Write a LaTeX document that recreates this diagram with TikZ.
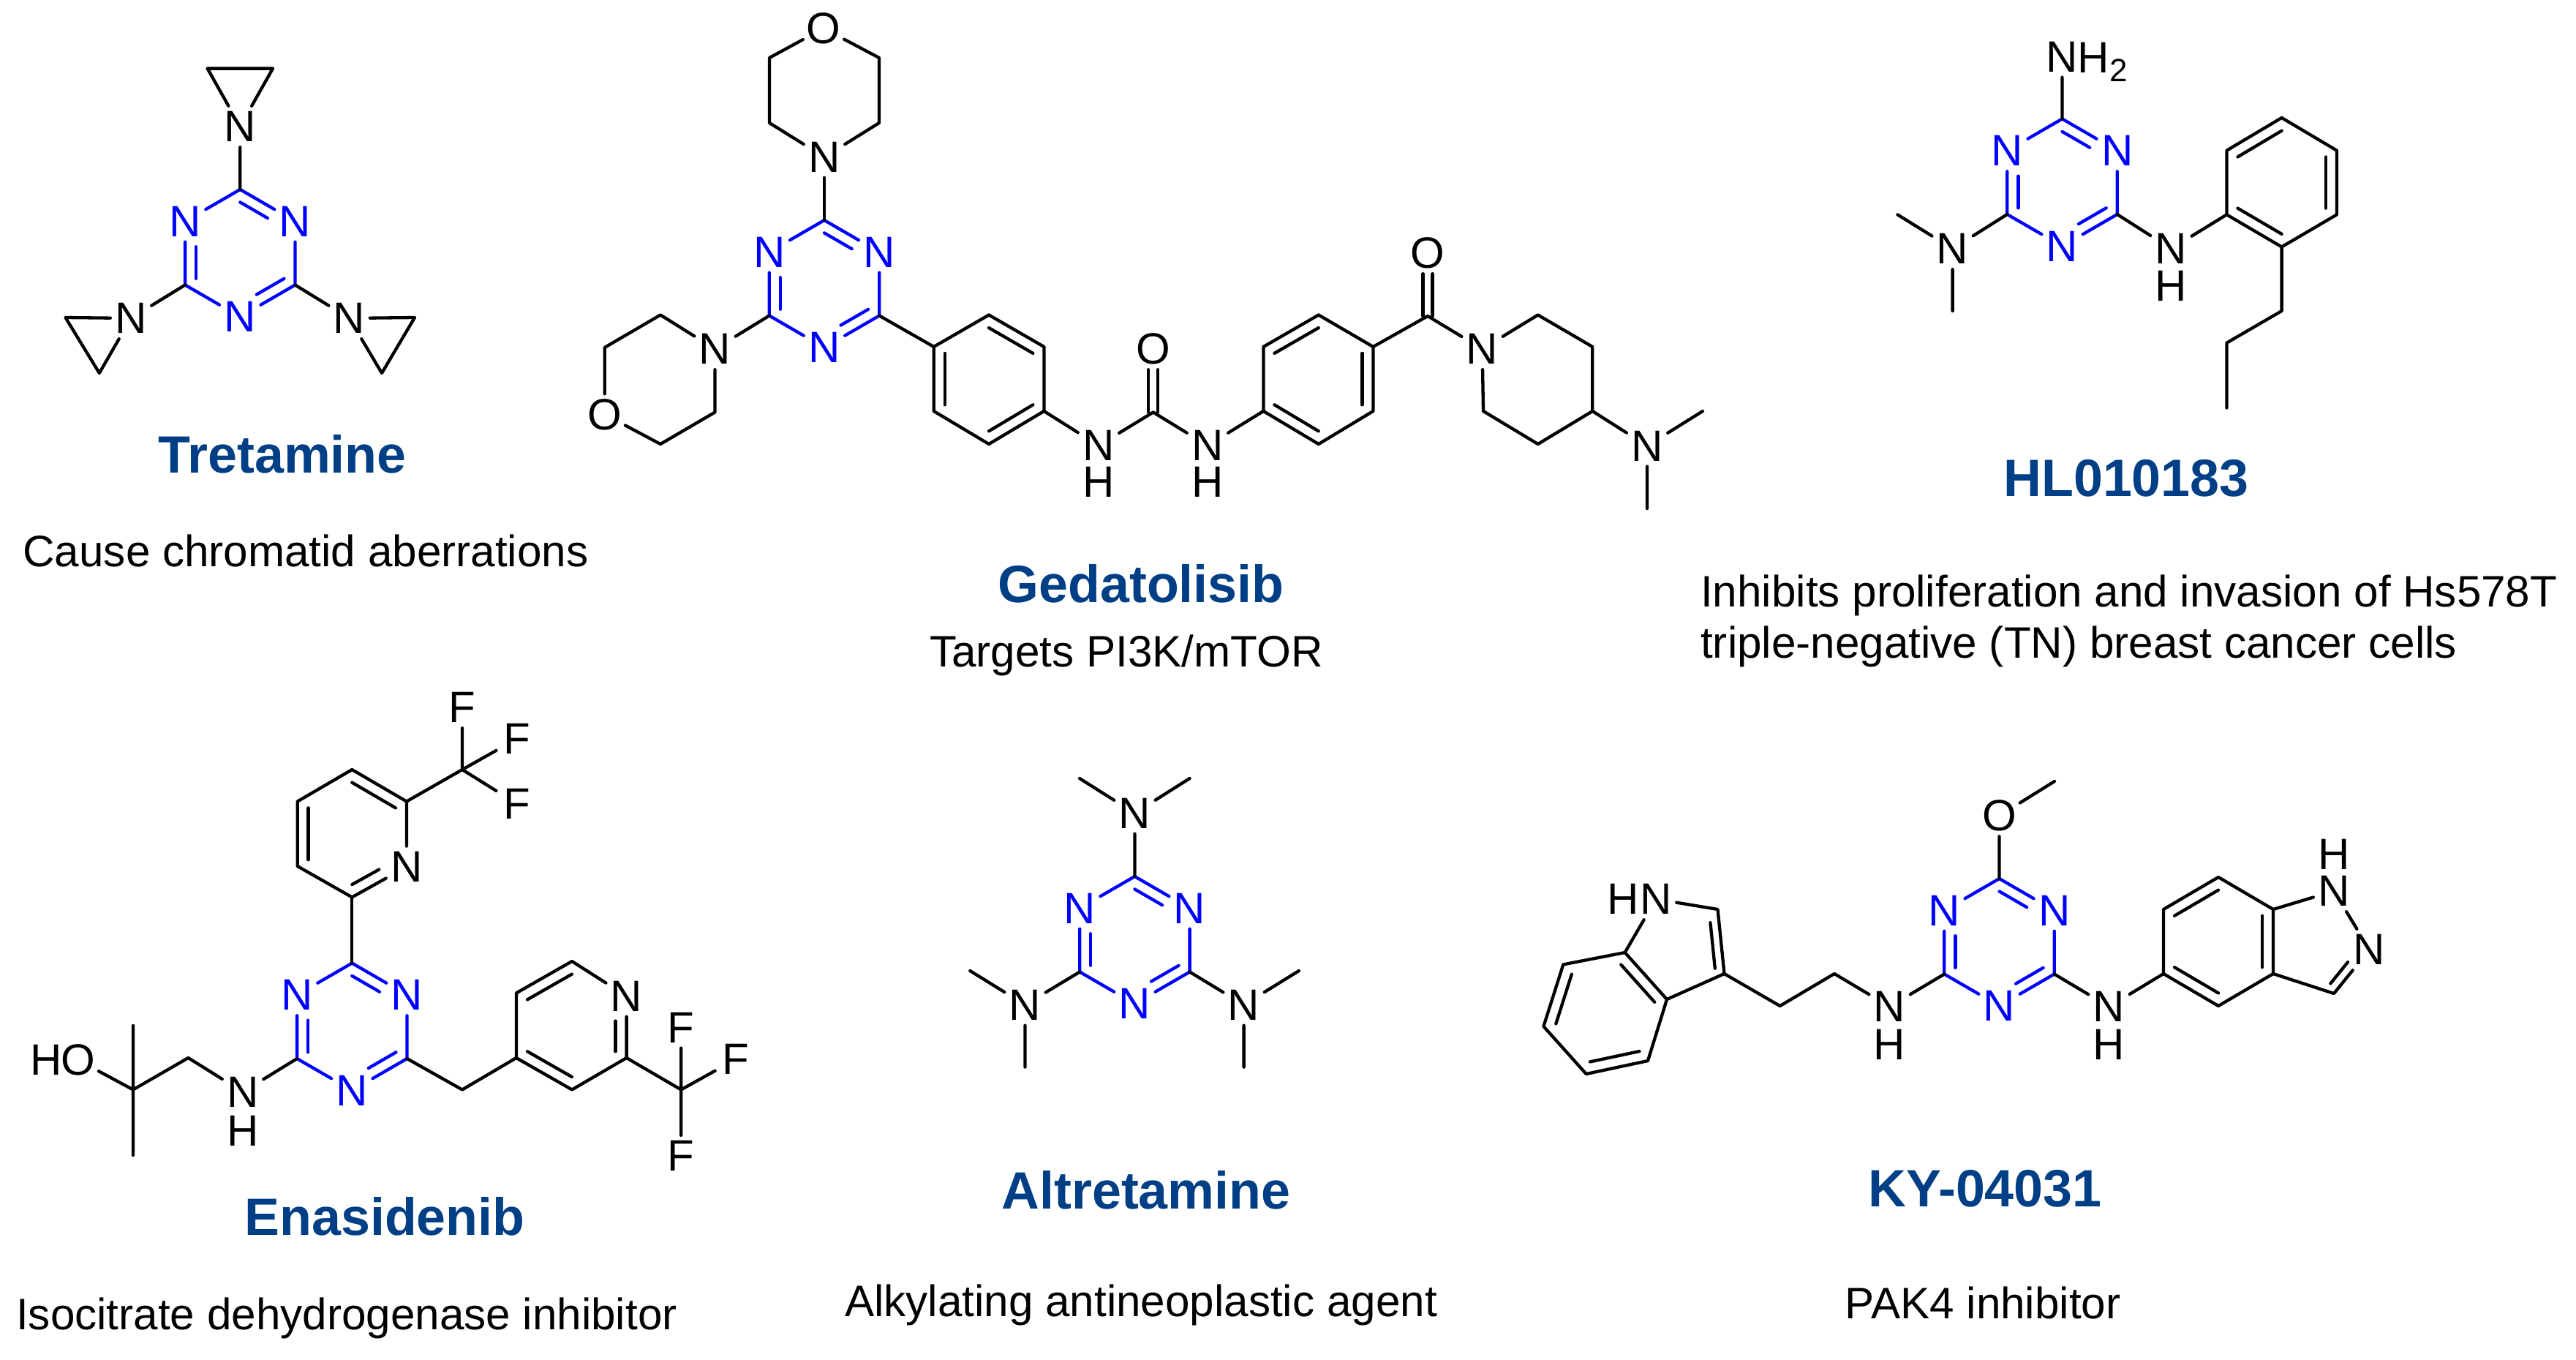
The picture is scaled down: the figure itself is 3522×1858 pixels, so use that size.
\documentclass[tikz,border=0pt]{standalone}
\usepackage{fontspec}
\setmainfont{Liberation Sans}
\usetikzlibrary{calc}
\definecolor{titleblue}{HTML}{003F86}
\tikzset{
  x=1pt,y=-1pt,
  bond/.style={line width=4.3pt,line cap=round,line join=round,draw=black},
  bbond/.style={bond,draw=blue},
  atom/.style={rectangle,inner sep=0pt,minimum size=56pt,font=\fontsize{60pt}{60pt}\selectfont,text=black},
  hatom/.style={rectangle,inner sep=0pt,font=\fontsize{60pt}{60pt}\selectfont,text=black},
  batom/.style={atom,text=blue},
  lbl/.style={inner sep=0pt,font=\fontsize{60pt}{60pt}\selectfont,anchor=base west},
  titletext/.style={inner sep=0pt,anchor=base,yshift=4pt,font=\bfseries\fontsize{71.8pt}{85pt}\selectfont,text=titleblue},
  desc/.style={inner sep=0pt,anchor=base,yshift=4pt,font=\fontsize{60.2pt}{72pt}\selectfont,text=black},
  descw/.style={desc,anchor=base west},
}
% inner line of a ring double bond: #2, #3 = ends, #4 = ring centre
\newcommand{\innerb}[4][bond]{\draw[#1] ($(#2.center)!0.2!(#4)$) -- ($(#3.center)!0.2!(#4)$);}
% exocyclic C=O style double bond, vertical
\newcommand{\vdbl}[2]{\draw[bond] ([xshift=-6.5pt]#1.center) -- ([xshift=-6.5pt]#2.south) ([xshift=6.5pt]#1.center) -- ([xshift=6.5pt]#2.south);}
% triazine ring: prefix, centre x, centre y
\newcommand{\triazine}[3]{%
  \coordinate (#1c) at (#2,#3);
  \coordinate (#1a) at ($(#1c)+(0,-87)$);
  \node[batom] (#1b) at ($(#1c)+(75.2,-43.5)$) {N};
  \coordinate (#1d) at ($(#1c)+(75.2,43.5)$);
  \node[batom] (#1e) at ($(#1c)+(0,87)$) {N};
  \coordinate (#1f) at ($(#1c)+(-75.2,43.5)$);
  \node[batom] (#1g) at ($(#1c)+(-75.2,-43.5)$) {N};
  \draw[bbond] (#1g) -- (#1a) -- (#1b) -- (#1d) -- (#1e) -- (#1f) -- (#1g);
  \innerb[bbond,shorten >=26pt]{#1a}{#1b}{#1c}
  \innerb[bbond,shorten >=26pt]{#1d}{#1e}{#1c}
  \innerb[bbond,shorten >=26pt]{#1f}{#1g}{#1c}
}
\begin{document}
\begin{tikzpicture}
\useasboundingbox (0,0) rectangle (3522,1858);

%% ---------- Tretamine
\triazine{t}{328.3}{346}
\node[atom] (tn1) at (328.3,173) {N};
\coordinate (tc1) at (283.6,93.6);
\coordinate (tc2) at (373,93.6);
\draw[bond] (tn1) -- (tc1) -- (tc2) -- (tn1);
\node[atom] (tn2) at (179,435) {N};
\coordinate (tc3) at (89.5,434);
\coordinate (tc4) at (135.8,510);
\draw[bond] (tn2) -- (tc3) -- (tc4) -- (tn2);
\node[atom] (tn3) at (477.6,435) {N};
\coordinate (tc5) at (567,434);
\coordinate (tc6) at (522,510);
\draw[bond] (tn3) -- (tc5) -- (tc6) -- (tn3);
\draw[bond] (ta) -- (tn1) (tf) -- (tn2) (td) -- (tn3);
\node[titletext] (ttitle) at (386,650) {Tretamine};
\node[desc] (tdesc) at (418,778) {Cause chromatid aberrations};

%% ---------- Gedatolisib
\triazine{g}{1127}{388}
\node[atom] (gn1) at (1127,214.7) {N};
\node[atom] (go1) at (1126,38.8) {O};
\coordinate (gm1) at (1052,79);
\coordinate (gm2) at (1052,168);
\coordinate (gm3) at (1202,79);
\coordinate (gm4) at (1202,168);
\draw[bond] (gn1) -- (gm2) -- (gm1) -- (go1) -- (gm3) -- (gm4) -- (gn1);
\draw[bond] (ga) -- (gn1);
\node[atom] (gn2) at (977.5,477) {N};
\node[atom] (go2) at (826.7,566.5) {O};
\coordinate (gm5) at (903,430.5);
\coordinate (gm6) at (826.7,475);
\coordinate (gm7) at (903,607);
\coordinate (gm8) at (977.5,563.5);
\draw[bond] (gn2) -- (gm5) -- (gm6) -- (go2) -- (gm7) -- (gm8) -- (gn2);
\draw[bond] (gf) -- (gn2);
% first benzene
\coordinate (gbc) at (1352,518.5);
\coordinate (gb1) at (1352,430.5);
\coordinate (gb2) at (1427.4,474);
\coordinate (gb3) at (1427.4,562);
\coordinate (gb4) at (1352,607);
\coordinate (gb5) at (1276.7,562);
\coordinate (gb6) at (1276.7,474);
\draw[bond] (gb1) -- (gb2) -- (gb3) -- (gb4) -- (gb5) -- (gb6) -- (gb1);
\innerb{gb1}{gb2}{gbc}
\innerb{gb3}{gb4}{gbc}
\innerb{gb5}{gb6}{gbc}
\draw[bond] (gd) -- (gb6);
% urea
\node[atom] (gun1) at (1502,609) {N};
\node[hatom] (guh1) at (1502,659) {H};
\coordinate (guc) at (1576.7,563.5);
\node[atom] (guo) at (1576.7,477) {O};
\node[atom] (gun2) at (1651,609) {N};
\node[hatom] (guh2) at (1651,659) {H};
\draw[bond] (gb3) -- (gun1) -- (guc) -- (gun2);
\vdbl{guc}{guo}
% second benzene
\coordinate (gdc) at (1802.5,518.5);
\coordinate (gd1) at (1802.8,430.5);
\coordinate (gd2) at (1877.4,474);
\coordinate (gd3) at (1877.4,562);
\coordinate (gd4) at (1802.8,607);
\coordinate (gd5) at (1727.4,562);
\coordinate (gd6) at (1727.4,474);
\draw[bond] (gd1) -- (gd2) -- (gd3) -- (gd4) -- (gd5) -- (gd6) -- (gd1);
\innerb{gd6}{gd1}{gdc}
\innerb{gd2}{gd3}{gdc}
\innerb{gd4}{gd5}{gdc}
\draw[bond] (gun2) -- (gd5);
% amide and piperidine
\coordinate (gcc) at (1952,432);
\node[atom] (gco) at (1952,346) {O};
\node[atom] (gpn) at (2026.6,477) {N};
\coordinate (gp1) at (2102.7,430.5);
\coordinate (gp2) at (2177.3,474);
\coordinate (gp3) at (2177.3,562);
\coordinate (gp4) at (2102.7,607);
\coordinate (gp5) at (2028,562);
\draw[bond] (gd2) -- (gcc) -- (gpn) -- (gp1) -- (gp2) -- (gp3) -- (gp4) -- (gp5) -- (gpn);
\vdbl{gcc}{gco}
\node[atom] (gan) at (2252,609.4) {N};
\coordinate (gam1) at (2328,562);
\coordinate (gam2) at (2252,695);
\draw[bond] (gp3) -- (gan) -- (gam1) (gan) -- (gam2);
\node[titletext] (gtitle) at (1560,827.6) {Gedatolisib};
\node[desc] (gdesc) at (1540,915) {Targets PI3K/mTOR};

%% ---------- HL010183
\triazine{h}{2819.5}{249.5}
\node[atom] (hn1) at (2819.4,77.5) {N};
\node[lbl] (hh1) at (2840.5,99) {H\raisebox{-12pt}{\fontsize{44pt}{50pt}\selectfont 2}};
\draw[bond] (ha) -- (hn1);
\node[atom] (hn2) at (2669.6,340) {N};
\coordinate (hm1) at (2594.4,293.4);
\coordinate (hm2) at (2669.6,425);
\draw[bond] (hf) -- (hn2) -- (hm1) (hn2) -- (hm2);
\node[atom] (hn3) at (2968.4,340) {N};
\node[hatom] (hh3) at (2968.4,390.6) {H};
\coordinate (hbc) at (3119.6,249.5);
\coordinate (hb1) at (3119.6,161);
\coordinate (hb2) at (3194.9,205.7);
\coordinate (hb3) at (3194.9,293.4);
\coordinate (hb4) at (3119.6,337.5);
\coordinate (hb5) at (3044.4,293.4);
\coordinate (hb6) at (3044.4,205.7);
\draw[bond] (hb1) -- (hb2) -- (hb3) -- (hb4) -- (hb5) -- (hb6) -- (hb1);
\innerb{hb6}{hb1}{hbc}
\innerb{hb2}{hb3}{hbc}
\innerb{hb4}{hb5}{hbc}
\draw[bond] (hd) -- (hn3) -- (hb5);
\coordinate (hp1) at (3119.6,425);
\coordinate (hp2) at (3044.4,468.7);
\coordinate (hp3) at (3044.4,557.5);
\draw[bond] (hb4) -- (hp1) -- (hp2) -- (hp3);
\node[titletext] (htitle) at (2907,682.8) {HL010183};
\node[descw] (hdesc1) at (2325,833.6) {Inhibits proliferation and invasion of Hs578T};
\node[descw] (hdesc2) at (2325,903) {triple-negative (TN) breast cancer cells};

%% ---------- Enasidenib
\triazine{e}{481.3}{1403.5}
\coordinate (epc) at (481.3,1140);
\coordinate (ep1) at (481.3,1226.4);
\node[atom] (epn) at (555.9,1184.8) {N};
\coordinate (ep3) at (555.9,1095.5);
\coordinate (ep4) at (481.3,1052);
\coordinate (ep5) at (406.7,1095.5);
\coordinate (ep6) at (406.7,1184);
\draw[bond] (ep1) -- (epn) -- (ep3) -- (ep4) -- (ep5) -- (ep6) -- (ep1);
\innerb[bond,shorten >=26pt]{ep1}{epn}{epc}
\innerb{ep3}{ep4}{epc}
\innerb{ep5}{ep6}{epc}
\draw[bond] (ea) -- (ep1);
\coordinate (ecf) at (632,1052);
\node[atom] (ef1) at (632,967) {F};
\node[atom] (ef2) at (706.6,1010) {F};
\node[atom] (ef3) at (706.6,1098.5) {F};
\draw[bond] (ep3) -- (ecf) -- (ef1) (ecf) -- (ef2) (ecf) -- (ef3);
\coordinate (ech) at (632,1489.5);
\coordinate (eqc) at (781.5,1402);
\coordinate (eq1) at (705.9,1446);
\coordinate (eq2) at (705.9,1357.4);
\coordinate (eq3) at (782,1314);
\node[atom] (eqn) at (856.6,1361.5) {N};
\coordinate (eq5) at (856.6,1446);
\coordinate (eq6) at (782,1489.5);
\draw[bond] (ed) -- (ech) -- (eq1) -- (eq2) -- (eq3) -- (eqn) -- (eq5) -- (eq6) -- (eq1);
\innerb{eq2}{eq3}{eqc}
\innerb[bond,shorten >=26pt]{eq5}{eqn}{eqc}
\innerb{eq6}{eq1}{eqc}
\coordinate (ecg) at (931.2,1489.5);
\node[atom] (ef4) at (931.2,1404.4) {F};
\node[atom] (ef5) at (1005.8,1448) {F};
\node[atom] (ef6) at (931.2,1580) {F};
\draw[bond] (eq5) -- (ecg) -- (ef4) (ecg) -- (ef5) (ecg) -- (ef6);
\node[atom] (enn) at (332,1492.5) {N};
\node[hatom] (enh) at (332,1546) {H};
\coordinate (ech2) at (257.4,1446);
\coordinate (eqq) at (182,1489.5);
\coordinate (eme1) at (182,1402);
\coordinate (eme2) at (182,1579);
\node[atom] (eo) at (106.7,1449) {O};
\node[hatom] (eh) at (63.4,1449) {H};
\draw[bond] (ef) -- (enn) -- (ech2) -- (eqq) -- (eo) (eme1) -- (eme2);
\node[titletext] (etitle) at (526,1692) {Enasidenib};
\node[desc] (edesc) at (474,1821) {Isocitrate dehydrogenase inhibitor};

%% ---------- Altretamine
\triazine{a}{1551.4}{1285}
\node[atom] (an1) at (1551.4,1111.5) {N};
\coordinate (am1) at (1476,1064);
\coordinate (am2) at (1626.6,1064);
\draw[bond] (aa) -- (an1) -- (am1) (an1) -- (am2);
\node[atom] (an2) at (1401.5,1373.5) {N};
\coordinate (am3) at (1326.3,1327);
\coordinate (am4) at (1401.5,1458.6);
\draw[bond] (af) -- (an2) -- (am3) (an2) -- (am4);
\node[atom] (an3) at (1700.6,1373.5) {N};
\coordinate (am5) at (1775.9,1327);
\coordinate (am6) at (1700.6,1458.6);
\draw[bond] (ad) -- (an3) -- (am5) (an3) -- (am6);
\node[titletext] (atitle) at (1567,1656) {Altretamine};
\node[desc] (adesc) at (1560,1803) {Alkylating antineoplastic agent};

%% ---------- KY-04031
\triazine{k}{2733.5}{1288}
\node[atom] (ko) at (2733.5,1115) {O};
\coordinate (kme) at (2809,1068);
\draw[bond] (ka) -- (ko) -- (kme);
\node[atom] (kln) at (2583.6,1376) {N};
\node[hatom] (klh) at (2583.6,1428) {H};
\node[atom] (krn) at (2883.5,1376) {N};
\node[hatom] (krh) at (2883.5,1428) {H};
\coordinate (kc1) at (2508,1331);
\coordinate (kc2) at (2433.6,1375);
\coordinate (kc3) at (2357.5,1331);
\draw[bond] (kf) -- (kln) -- (kc1) -- (kc2) -- (kc3);
% indole
\coordinate (kipc) at (2294,1294);
\coordinate (kibc) at (2195,1385);
\coordinate (ki2) at (2348.5,1243);
\node[atom] (kin) at (2264,1229) {N};
\node[hatom] (kih) at (2219.4,1229) {H};
\coordinate (ki7a) at (2221.6,1302);
\coordinate (ki3a) at (2279,1366);
\coordinate (ki4) at (2253,1450);
\coordinate (ki5) at (2168.7,1468);
\coordinate (ki6) at (2110.4,1403);
\coordinate (ki7) at (2137.3,1318.4);
\draw[bond] (kc3) -- (ki2) -- (kin) -- (ki7a) -- (ki3a) -- (kc3);
\draw[bond] (ki3a) -- (ki4) -- (ki5) -- (ki6) -- (ki7) -- (ki7a);
\innerb[bond,shorten >=8pt]{kc3}{ki2}{kipc}
\innerb{ki7a}{ki3a}{kibc}
\innerb{ki4}{ki5}{kibc}
\innerb{ki6}{ki7}{kibc}
% indazole
\coordinate (kbc) at (3033,1287);
\coordinate (kb1) at (2958,1331);
\coordinate (kb2) at (2958,1243);
\coordinate (kb3) at (3033,1199);
\coordinate (kb4) at (3108,1243);
\coordinate (kb5) at (3108,1331);
\coordinate (kb6) at (3033,1375);
\draw[bond] (kb1) -- (kb2) -- (kb3) -- (kb4) -- (kb5) -- (kb6) -- (kb1);
\innerb{kb2}{kb3}{kbc}
\innerb{kb4}{kb5}{kbc}
\innerb{kb6}{kb1}{kbc}
\draw[bond] (kd) -- (krn) -- (kb1);
\coordinate (kzc) at (3167.5,1290);
\coordinate (kz3) at (3191,1358);
\node[atom] (kzn2) at (3239.5,1298) {N};
\node[atom] (kzn1) at (3191,1218) {N};
\node[hatom] (kzh) at (3191,1168) {H};
\draw[bond] (kb5) -- (kz3) -- (kzn2) -- (kzn1) -- (kb4);
\innerb[bond,shorten >=24pt]{kz3}{kzn2}{kzc}
\node[titletext] (ktitle) at (2714,1653) {KY-04031};
\node[desc] (kdesc) at (2711,1806) {PAK4 inhibitor};
\end{tikzpicture}
\end{document}
